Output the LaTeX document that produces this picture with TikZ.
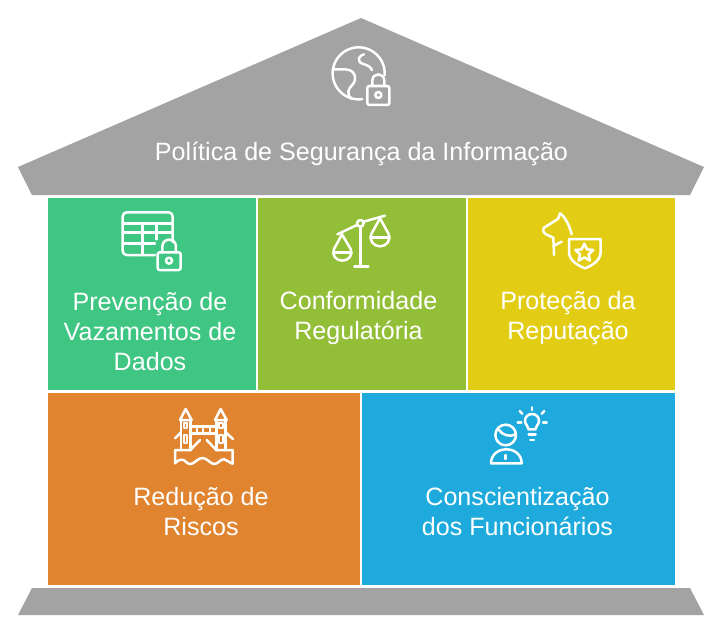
\documentclass[tikz,border=0pt]{standalone}
\usepackage{fontspec}
\setmainfont{Liberation Sans}
\definecolor{roofgray}{HTML}{A3A3A3}
\definecolor{cgreen}{HTML}{3EC682}
\definecolor{colive}{HTML}{93BE38}
\definecolor{cyellow}{HTML}{E2CD14}
\definecolor{corange}{HTML}{E08430}
\definecolor{cblue}{HTML}{1EAADC}
\tikzset{
  panel/.style={fill=#1,draw=none,inner sep=0pt,outer sep=0pt},
  lbl/.style={text=white,align=center,font=\fontsize{25.1}{30}\selectfont,inner sep=0pt},
  icon/.style={draw=white,line width=2.5pt,line cap=round,line join=round,fill=none},
  thin icon/.style={draw=white,line width=2pt,line cap=round,line join=round,fill=none},
}
\newcommand{\panelbox}[5]{\path[panel=#5] (#1,#2) rectangle (#3,#4);}
\begin{document}
\begin{tikzpicture}[x=1pt,y=-1pt]
\useasboundingbox (0,0) rectangle (723,633);
% roof and base
\path[fill=roofgray] (361,18) -- (704,167) -- (690,195) -- (32,195) -- (18,167) -- cycle;
\path[fill=roofgray] (32,588) -- (690,588) -- (704,615) -- (18,615) -- cycle;
% panels
\panelbox{48}{198}{256}{390}{cgreen}
\panelbox{258}{198}{466}{390}{colive}
\panelbox{468}{198}{675}{390}{cyellow}
\panelbox{48}{393}{360}{585}{corange}
\panelbox{362}{393}{675}{585}{cblue}
% labels
\node[lbl] (roof) at (361.5,153.5) {Política de Segurança da Informação};
\node[lbl] (prev) at (150,332) {Prevenção de\\Vazamentos de\\Dados};
\node[lbl] (conf) at (358.5,318) {Conformidade\\Regulatória};
\node[lbl] (prot) at (568,318) {Proteção da\\Reputação};
\node[lbl] (red) at (201,512) {Redução de\\Riscos};
\node[lbl] (cons) at (517.5,512) {Conscientização\\dos Funcionários};
% globe icon
\begin{scope}[shift={(310,30)},x=0.3333pt,y=-0.3333pt]
\draw[icon] plot[domain=4:-278,samples=80] ({146+78*cos(\x)},{130+78*sin(\x)});
\draw[icon] (68,118) -- (105,118) .. controls (125,118) and (138,130) .. (135,150) .. controls (132,165) and (117,170) .. (115,185) .. controls (114,195) and (118,202) .. (125,206);
\draw[icon] (162,73) .. controls (148,76) and (143,88) .. (150,97) .. controls (157,105) and (175,100) .. (186,120);
\draw[icon,rounded corners=2pt] (172,168) rectangle (238,225);
\draw[icon] (187,168) -- (187,152) .. controls (187,127) and (223,127) .. (223,152) -- (223,168);
\draw[icon] (205,195) circle[radius=9];
\end{scope}
% table icon
\begin{scope}[shift={(110,200)},x=0.3333pt,y=-0.3333pt]
\draw[icon,rounded corners=4pt] (135,165) -- (38,165) -- (38,37) -- (188,37) -- (188,125);
\draw[icon] (38,70) -- (188,70);
\draw[icon] (38,98) -- (188,98);
\draw[icon] (38,130) -- (135,130);
\draw[icon] (97,70) -- (97,165);
\draw[icon] (140,70) -- (140,118);
\draw[icon,rounded corners=2pt] (143,157) rectangle (212,210);
\draw[icon] (157,157) -- (157,140) .. controls (157,112) and (198,112) .. (198,140) -- (198,157);
\draw[icon] (177,182) circle[radius=9];
\end{scope}
% scales icon
\begin{scope}[shift={(320,205)},x=0.3333pt,y=-0.3333pt]
\draw[icon] (121,65) -- (121,185);
\draw[icon] (103,185) -- (145,185);
\draw[icon] (121,55) circle[radius=10];
\draw[icon] (52,88) -- (111,60);
\draw[icon] (131,50) -- (195,32);
\draw[icon] (66,88) -- (42,132) .. controls (34,150) and (48,167) .. (67,167) .. controls (86,167) and (100,150) .. (92,132) -- cycle;
\draw[icon] (40,142) -- (94,142);
\draw[icon] (180,40) -- (155,85) .. controls (145,105) and (160,124) .. (180,124) .. controls (200,124) and (215,105) .. (205,85) -- cycle;
\draw[icon] (152,98) -- (208,98);
\end{scope}
% dog and shield icon
\begin{scope}[shift={(530,205)},x=0.3333pt,y=-0.3333pt]
\draw[icon] (125,88) .. controls (118,60) and (105,35) .. (90,25) -- (84,42) -- (42,68) .. controls (36,78) and (42,85) .. (48,88) -- (70,98) -- (72,150);
\draw[icon] (72,122) -- (95,110);
\draw[icon] (117,102) -- (212,102) -- (212,140) .. controls (212,165) and (190,180) .. (165,190) .. controls (140,180) and (117,165) .. (117,140) -- cycle;
\draw[icon] (163,116) -- (171,133) -- (190,135) -- (176,148) -- (180,167) -- (163,157) -- (146,167) -- (150,148) -- (136,135) -- (155,133) -- cycle;
\end{scope}
% bridge icon
\begin{scope}[shift={(165,400)},x=0.3333pt,y=-0.3333pt]
\draw[icon] (45,60) -- (62,27) -- (80,60) -- cycle;
\draw[icon] (150,60) -- (167,27) -- (185,60) -- cycle;
\draw[icon] (48,60) -- (48,150);
\draw[icon] (76,60) -- (76,150);
\draw[icon] (154,60) -- (154,150);
\draw[icon] (182,60) -- (182,150);
\draw[thin icon] (57,70) rectangle (67,84);
\draw[thin icon] (57,106) rectangle (67,130);
\draw[thin icon] (163,70) rectangle (173,84);
\draw[thin icon] (163,106) rectangle (173,130);
\draw[icon] (76,80) -- (154,80);
\draw[icon] (76,100) -- (154,100);
\draw[thin icon] (95,80) -- (95,100);
\draw[thin icon] (115,80) -- (115,100);
\draw[thin icon] (135,80) -- (135,100);
\draw[icon] (30,115) -- (48,97);
\draw[icon] (182,97) -- (204,117);
\draw[icon] (76,150) -- (105,120);
\draw[icon] (125,120) -- (154,150);
\draw[icon] (78,150) -- (30,150) -- (30,190) .. controls (40,180) and (48,176) .. (56,180) .. controls (64,184) and (68,194) .. (78,192) .. controls (90,190) and (100,172) .. (115,174) .. controls (128,176) and (138,194) .. (150,192) .. controls (160,190) and (168,176) .. (178,178) .. controls (188,180) and (195,190) .. (203,191) -- (203,150) -- (152,150);
\end{scope}
% person and bulb icon
\begin{scope}[shift={(480,400)},x=0.3333pt,y=-0.3333pt]
\draw[icon] (77,105) circle[radius=31];
\draw[icon] (57,90) .. controls (68,106) and (90,112) .. (107,103);
\draw[icon] (33,190) -- (125,190) .. controls (125,165) and (105,148) .. (79,148) .. controls (53,148) and (33,165) .. (33,190) -- cycle;
\draw[icon] (77,165) -- (77,177);
\draw[icon] (146,88) .. controls (146,78) and (135,75) .. (135,62) .. controls (135,50) and (145,42) .. (156,42) .. controls (167,42) and (177,50) .. (177,62) .. controls (177,75) and (166,78) .. (166,88) -- cycle;
\draw[icon] (146,104) -- (167,104);
\draw[icon] (151,120) -- (162,120);
\draw[icon] (156,22) -- (156,30);
\draw[icon] (119,33) -- (127,41);
\draw[icon] (193,33) -- (185,41);
\draw[icon] (113,68) -- (124,68);
\draw[icon] (189,68) -- (200,68);
\end{scope}
\end{tikzpicture}
\end{document}
